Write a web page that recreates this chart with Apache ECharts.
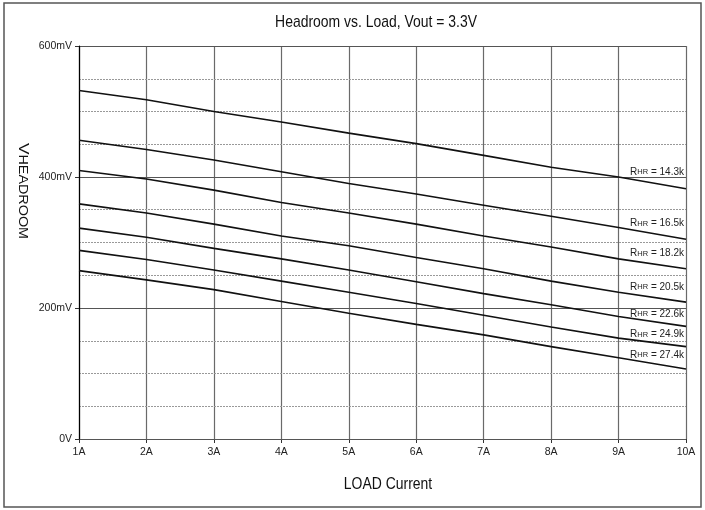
<!DOCTYPE html>
<html>
<head>
<meta charset="utf-8">
<style>
  html, body { margin: 0; padding: 0; background: #fff; }
  #chart { width: 705px; height: 510px; }
</style>
<script src="https://cdn.jsdelivr.net/npm/echarts@6/dist/echarts.min.js"></script>
</head>
<body>
<div id="chart"></div>
<script>
// Load current in amps (x axis)
const loadCurrent = [1, 2, 3, 4, 5, 6, 7, 8, 9, 10];

// Headroom resistor value for each curve
const resistors = ['14.3k', '16.5k', '18.2k', '20.5k', '22.6k', '24.9k', '27.4k'];

// Headroom in mV, one list per resistor
const headroom143 = [532, 518, 500, 484, 467, 451, 433, 415, 400, 382];
const headroom165 = [456, 442, 426, 408, 390, 374, 357, 340, 323, 305];
const headroom182 = [410, 397, 380, 361, 345, 328, 310, 293, 275, 260];
const headroom205 = [359, 345, 328, 310, 295, 277, 260, 241, 224, 209];
const headroom226 = [322, 308, 291, 275, 258, 240, 222, 205, 187, 172];
const headroom249 = [288, 274, 258, 241, 224, 207, 189, 171, 154, 141];
const headroom274 = [257, 243, 228, 210, 192, 175, 159, 141, 124, 107];

// Y tick labels (mV -> text)
const yTickLabels = { 0: '0V', 200: '200mV', 400: '400mV', 600: '600mV' };

const curves = [headroom143, headroom165, headroom182, headroom205,
                headroom226, headroom249, headroom274];

// vertical lift (px) of each curve's end label above the line end
const labelLift = [18, 16.5, 16, 16, 13, 13, 15];

const FONT = "'Liberation Sans', Arial, sans-serif";

const series = curves.map((vals, i) => ({
  name: 'RHR = ' + resistors[i],
  type: 'line',
  xAxisIndex: 0,
  yAxisIndex: 0,
  data: vals.map((v, k) => [loadCurrent[k], v]),
  symbol: 'none',
  silent: true,
  animation: false,
  lineStyle: { color: '#111', width: 1.6 },
  z: 5,
  endLabel: {
    show: true,
    formatter: () => '{r|R}{s|HR}{r| = ' + resistors[i] + '}',
    align: 'right',
    verticalAlign: 'middle',
    distance: 0,
    offset: [-2, -labelLift[i]],
    rich: {
      r: { fontFamily: FONT, fontSize: 10, color: '#222', lineHeight: 12, verticalAlign: 'bottom' },
      s: { fontFamily: FONT, fontSize: 7.5, color: '#222', lineHeight: 12, verticalAlign: 'bottom', padding: [0, 0, 1, 0] }
    }
  }
}));

const chart = echarts.init(document.getElementById('chart'), null, { renderer: 'canvas' });

chart.setOption({
  animation: false,
  backgroundColor: '#fff',
  grid: { left: 79, right: 19, top: 46, bottom: 71, containLabel: false },
  xAxis: {
    type: 'value',
    min: 1,
    max: 10,
    interval: 1,
    axisLine: { show: true, lineStyle: { color: '#000', width: 1.2 } },
    axisTick: { show: true, length: 4, lineStyle: { color: '#333' } },
    axisLabel: {
      margin: 8, fontFamily: FONT, fontSize: 10.5, color: '#222',
      formatter: v => v + 'A'
    },
    splitLine: { show: true, lineStyle: { color: '#6a6a6a', width: 1.2 } }
  },
  yAxis: [
    {
      type: 'value',
      min: 0,
      max: 600,
      interval: 200,
      axisLine: { show: true, lineStyle: { color: '#000', width: 1.2 } },
      axisTick: { show: true, length: 4, lineStyle: { color: '#333' } },
      axisLabel: {
        margin: 7, fontFamily: FONT, fontSize: 10.5, color: '#222',
        formatter: v => yTickLabels[v] || ''
      },
      splitLine: { show: true, lineStyle: { color: '#555', width: 1.2 } },
      z: 3
    },
    {
      type: 'value',
      min: 0,
      max: 600,
      interval: 50,
      position: 'left',
      axisLine: { show: false },
      axisTick: { show: false },
      axisLabel: { show: false },
      splitLine: { show: true, lineStyle: { color: '#999', width: 1, type: [2, 1] } },
      z: 1
    }
  ],
  series: series,
  graphic: [
    {
      type: 'rect',
      shape: { x: 4, y: 3, width: 697, height: 504 },
      style: { fill: 'none', stroke: '#555', lineWidth: 1.5 },
      silent: true, z: 0
    },
    {
      type: 'text',
      x: 376, y: 22,
      scaleX: 0.82,
      style: {
        text: 'Headroom vs. Load, Vout = 3.3V',
        font: '17px ' + FONT,
        fill: '#111', align: 'center', verticalAlign: 'middle'
      },
      silent: true
    },
    {
      type: 'text',
      x: 388, y: 484,
      scaleX: 0.82,
      style: {
        text: 'LOAD Current',
        font: '17px ' + FONT,
        fill: '#111', align: 'center', verticalAlign: 'middle'
      },
      silent: true
    },
    {
      type: 'text',
      x: 23, y: 191,
      rotation: -Math.PI / 2,
      scaleX: 1.15,
      style: {
        text: '{v|V}{h|HEADROOM}',
        rich: {
          v: { fontFamily: FONT, fontSize: 15, fill: '#111', verticalAlign: 'bottom' },
          h: { fontFamily: FONT, fontSize: 12.5, fill: '#111', verticalAlign: 'bottom' }
        },
        align: 'center', verticalAlign: 'middle'
      },
      silent: true
    }
  ]
});
</script>
</body>
</html>
